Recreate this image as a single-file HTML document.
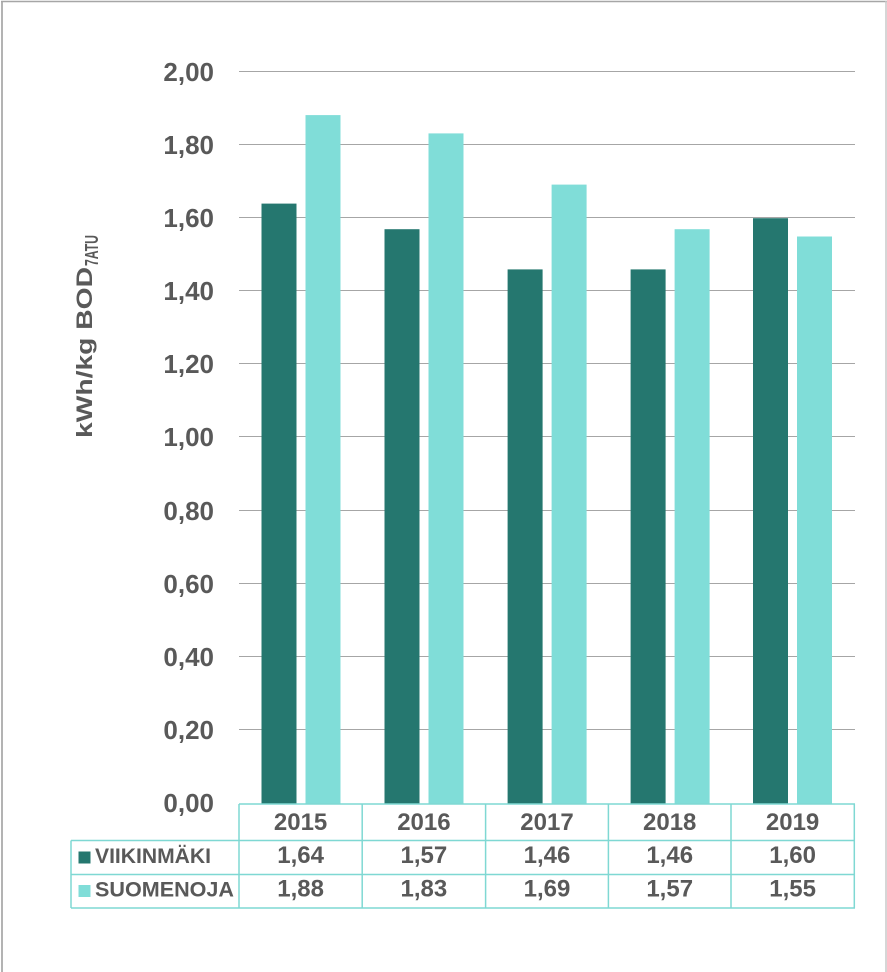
<!DOCTYPE html>
<html>
<head>
<meta charset="utf-8">
<style>
  html, body { margin: 0; padding: 0; background: #ffffff; }
  svg { display: block; }
  text { font-family: "Liberation Sans", "DejaVu Sans", sans-serif; font-weight: bold; fill: #595959; }
</style>
</head>
<body>
<svg width="887" height="972" viewBox="0 0 887 972" xmlns="http://www.w3.org/2000/svg">
  <rect x="0" y="0" width="887" height="972" fill="#ffffff"/>
  <!-- outer frame -->
  <line x1="2" y1="1" x2="2" y2="972" stroke="#b3b3b3" stroke-width="2"/>
  <line x1="1" y1="1.5" x2="887" y2="1.5" stroke="#a6a6a6" stroke-width="1.5"/>
  <line x1="886" y1="1" x2="886" y2="972" stroke="#c8c8c8" stroke-width="1.5"/>

  <!-- gridlines -->
  <g stroke="#a6a6a6" stroke-width="1">
    <line x1="239" y1="71.5" x2="855" y2="71.5"/>
    <line x1="239" y1="144.5" x2="855" y2="144.5"/>
    <line x1="239" y1="217.5" x2="855" y2="217.5"/>
    <line x1="239" y1="290.5" x2="855" y2="290.5"/>
    <line x1="239" y1="363.5" x2="855" y2="363.5"/>
    <line x1="239" y1="436.5" x2="855" y2="436.5"/>
    <line x1="239" y1="510.5" x2="855" y2="510.5"/>
    <line x1="239" y1="583.5" x2="855" y2="583.5"/>
    <line x1="239" y1="656.5" x2="855" y2="656.5"/>
    <line x1="239" y1="729.5" x2="855" y2="729.5"/>
  </g>

  <!-- tick labels -->
  <g font-size="26" text-anchor="end">
    <text x="214" y="81">2,00</text>
    <text x="214" y="154">1,80</text>
    <text x="214" y="227">1,60</text>
    <text x="214" y="300">1,40</text>
    <text x="214" y="373">1,20</text>
    <text x="214" y="446">1,00</text>
    <text x="214" y="520">0,80</text>
    <text x="214" y="593">0,60</text>
    <text x="214" y="666">0,40</text>
    <text x="214" y="739">0,20</text>
    <text x="214" y="812">0,00</text>
  </g>

  <!-- y axis title -->
  <g transform="translate(92,438) rotate(-90)">
    <text x="0" y="0" font-size="22" textLength="171" lengthAdjust="spacingAndGlyphs">kWh/kg BOD</text>
    <text x="172" y="6" font-size="18" textLength="31" lengthAdjust="spacingAndGlyphs">7ATU</text>
  </g>

  <!-- bars: zero=803, scale 365.5/unit -->
  <g>
    <!-- 2015 -->
    <rect x="261.5" y="203.6" width="35" height="600" fill="#25776f"/>
    <rect x="305.5" y="115.1" width="35" height="688.5" fill="#80ddd8"/>
    <!-- 2016 -->
    <rect x="384.5" y="229.2" width="35" height="574.4" fill="#25776f"/>
    <rect x="428.5" y="133.4" width="35" height="670.2" fill="#80ddd8"/>
    <!-- 2017 -->
    <rect x="507.6" y="269.4" width="35" height="534.2" fill="#25776f"/>
    <rect x="551.6" y="184.6" width="35" height="619" fill="#80ddd8"/>
    <!-- 2018 -->
    <rect x="630.6" y="269.4" width="35" height="534.2" fill="#25776f"/>
    <rect x="674.6" y="229.2" width="35" height="574.4" fill="#80ddd8"/>
    <!-- 2019 -->
    <rect x="753" y="218.2" width="35" height="585.4" fill="#25776f"/>
    <rect x="797" y="236.5" width="35" height="567.1" fill="#80ddd8"/>
  </g>

  <!-- data table -->
  <g stroke="#7fd8d3" stroke-width="1.5" fill="none">
    <line x1="239" y1="804" x2="855" y2="804"/>
    <line x1="71" y1="840.5" x2="855" y2="840.5"/>
    <line x1="71" y1="874.5" x2="855" y2="874.5"/>
    <line x1="71" y1="908" x2="855" y2="908"/>
    <line x1="71" y1="840.5" x2="71" y2="908"/>
    <line x1="239" y1="804" x2="239" y2="908"/>
    <line x1="362.2" y1="804" x2="362.2" y2="908"/>
    <line x1="485.6" y1="804" x2="485.6" y2="908"/>
    <line x1="608.4" y1="804" x2="608.4" y2="908"/>
    <line x1="731" y1="804" x2="731" y2="908"/>
    <line x1="854.3" y1="804" x2="854.3" y2="908"/>
  </g>

  <g font-size="24" text-anchor="middle">
    <text x="300.6" y="830">2015</text>
    <text x="423.9" y="830">2016</text>
    <text x="547" y="830">2017</text>
    <text x="669.7" y="830">2018</text>
    <text x="792.6" y="830">2019</text>

    <text x="300.6" y="863">1,64</text>
    <text x="423.9" y="863">1,57</text>
    <text x="547" y="863">1,46</text>
    <text x="669.7" y="863">1,46</text>
    <text x="792.6" y="863">1,60</text>

    <text x="300.6" y="896.5">1,88</text>
    <text x="423.9" y="896.5">1,83</text>
    <text x="547" y="896.5">1,69</text>
    <text x="669.7" y="896.5">1,57</text>
    <text x="792.6" y="896.5">1,55</text>
  </g>

  <!-- legend keys -->
  <rect x="78.5" y="851.5" width="12" height="12" fill="#25776f"/>
  <rect x="78.5" y="885" width="12" height="12" fill="#80ddd8"/>
  <text x="95" y="863" font-size="21" textLength="116" lengthAdjust="spacingAndGlyphs">VIIKINMÄKI</text>
  <text x="95" y="896.5" font-size="21" textLength="139" lengthAdjust="spacingAndGlyphs">SUOMENOJA</text>
</svg>
</body>
</html>
